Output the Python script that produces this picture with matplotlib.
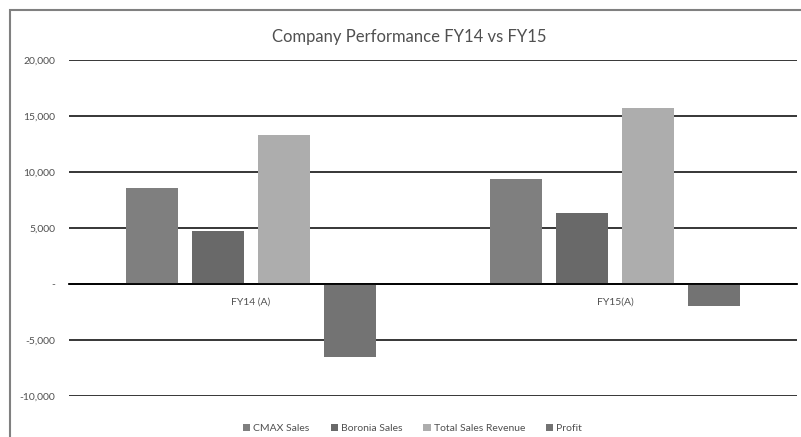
import matplotlib
matplotlib.use("Agg")
import matplotlib.pyplot as plt
from matplotlib.patches import Rectangle
from matplotlib.ticker import FuncFormatter
import numpy as np

plt.rcParams['font.family'] = ['Lato', 'DejaVu Sans']

categories = ["FY14 (A)", "FY15(A)"]
series_names = ["CMAX Sales", "Boronia Sales", "Total Sales Revenue", "Profit"]
cmax_sales = [8600, 9400]
boronia_sales = [4700, 6300]
total_sales_revenue = [13300, 15700]
profit = [-6500, -2000]
yticks = [-10000, -5000, 0, 5000, 10000, 15000, 20000]

series = [cmax_sales, boronia_sales, total_sales_revenue, profit]
colors = ["#7f7f7f", "#696969", "#adadad", "#737373"]

fig = plt.figure(figsize=(8.01, 4.37), dpi=100)
W, H = 801, 437
ax = fig.add_axes([69 / W, 1 - 396 / H, (797 - 69) / W, (396 - 60) / H])

x = np.arange(len(categories))
bw = 52 / 364
step = 66 / 364
for i, (vals, c, name) in enumerate(zip(series, colors, series_names)):
    ax.bar(x + (i - 1.5) * step, vals, width=bw, color=c, label=name, zorder=3)

ax.set_xlim(-0.5, len(categories) - 0.5)
ax.set_ylim(-10000, 20000)
ax.set_yticks(yticks)
ax.yaxis.set_major_formatter(FuncFormatter(lambda v, p: "-" if v == 0 else f"{int(v):,}"))
ax.grid(axis='y', color="#262626", linewidth=1.3, zorder=0)
for s in ['top', 'right', 'left']:
    ax.spines[s].set_visible(False)
ax.spines['bottom'].set_position(('data', 0))
ax.spines['bottom'].set_color("#000000")
ax.spines['bottom'].set_linewidth(1.3)
ax.spines['bottom'].set_zorder(4)
ax.set_xticks(x, categories)
ax.tick_params(axis='x', length=0, pad=10, labelsize=7.5, labelcolor="#505050")
ax.tick_params(axis='y', length=0, pad=10, labelsize=7.5, labelcolor="#505050")

ax.set_title("Company Performance FY14 vs FY15", fontsize=12, color="#505050", pad=13, x=0.468)

leg = ax.legend(loc='upper center', bbox_to_anchor=(0.472, -0.055), ncol=4, frameon=False,
                fontsize=7.5, handlelength=0.7, handleheight=0.7, handletextpad=0.3,
                columnspacing=2.0, labelcolor="#505050")

fig.patches.append(Rectangle((10 / W, -0.1), 1.2, 1 - 10 / H + 0.1, transform=fig.transFigure,
                             fill=False, edgecolor="#808080", linewidth=1.5))

fig.savefig("out.png", dpi=100)
